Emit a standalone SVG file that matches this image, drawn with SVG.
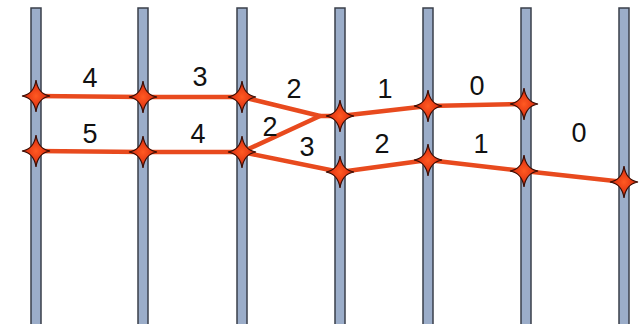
<svg xmlns="http://www.w3.org/2000/svg" width="642" height="324" viewBox="0 0 642 324">
<style>
.bar{fill:#9badc9;stroke:#3a3f4a;stroke-width:1.5}
.ln{fill:none;stroke:#e84a1e;stroke-width:4.5;stroke-linejoin:round;stroke-linecap:round}
.lb{font-family:"Liberation Sans",Arial,sans-serif;font-size:27px;fill:#111;text-anchor:middle}
</style>
<defs>
<radialGradient id="sg" cx="0.5" cy="0.5" r="0.5">
<stop offset="0" stop-color="#ff5a22"/>
<stop offset="0.6" stop-color="#e63a14"/>
<stop offset="1" stop-color="#8a1a08"/>
</radialGradient>
<path id="star" d="M0,-16 Q2,-2 14,0 Q2,2 0,16 Q-2,2 -14,0 Q-2,-2 0,-16 Z" fill="url(#sg)" stroke="#3a0d04" stroke-width="1.2"/>
</defs>
<rect width="642" height="324" fill="#fff"/>
<g id="bars">
<rect class="bar" x="31" y="8" width="10" height="320"/>
<rect class="bar" x="138" y="8" width="10" height="320"/>
<rect class="bar" x="237" y="8" width="10" height="320"/>
<rect class="bar" x="335" y="8" width="10" height="320"/>
<rect class="bar" x="423" y="8" width="10" height="320"/>
<rect class="bar" x="521" y="8" width="10" height="320"/>
<rect class="bar" x="619" y="8" width="10" height="320"/>
</g>
<g id="connectors">
<polyline class="ln" points="36,96 143,97 242,97 320,116 340,116 428,106 524,104"/>
<polyline class="ln" points="36,151 143,152 242,152 340,172 428,160 524,171 624,182"/>
<line class="ln" x1="242" y1="152" x2="320" y2="116"/>
</g>
<g id="nodes">
<use href="#star" x="36" y="96"/>
<use href="#star" x="143" y="97"/>
<use href="#star" x="242" y="97"/>
<use href="#star" x="340" y="116"/>
<use href="#star" x="428" y="106"/>
<use href="#star" x="524" y="104"/>
<use href="#star" x="36" y="151"/>
<use href="#star" x="143" y="152"/>
<use href="#star" x="242" y="152"/>
<use href="#star" x="340" y="172"/>
<use href="#star" x="428" y="160"/>
<use href="#star" x="524" y="171"/>
<use href="#star" x="624" y="182"/>
</g>
<g id="labels">
<text class="lb" x="90" y="87">4</text>
<text class="lb" x="200" y="86">3</text>
<text class="lb" x="294" y="98">2</text>
<text class="lb" x="385" y="98">1</text>
<text class="lb" x="477" y="95">0</text>
<text class="lb" x="90" y="143">5</text>
<text class="lb" x="198" y="143">4</text>
<text class="lb" x="270" y="136">2</text>
<text class="lb" x="307" y="156">3</text>
<text class="lb" x="382" y="153">2</text>
<text class="lb" x="481" y="153">1</text>
<text class="lb" x="579" y="142">0</text>
</g>
</svg>
